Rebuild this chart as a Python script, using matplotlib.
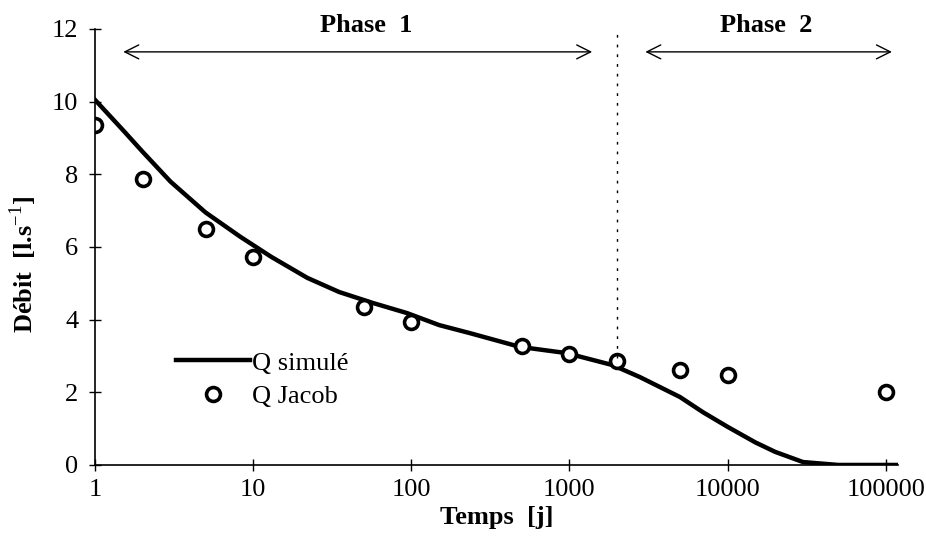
import matplotlib
matplotlib.use("Agg")
import matplotlib.pyplot as plt

# donnees
t_jacob = [1, 2, 5, 10, 50, 100, 500, 1000, 2000, 5000, 10000, 100000]
q_jacob = [9.36, 7.86, 6.5, 5.72, 4.36, 3.94, 3.28, 3.06, 2.85, 2.6, 2.47, 2.02]

t_sim = [1, 1.5, 2, 3, 5, 8.3, 13, 22, 35, 57, 94, 150, 234, 486, 955,
         1870, 2786, 5000, 7000, 10000, 15000, 20000, 30000, 50000, 120000]
q_sim = [10.05, 9.22, 8.62, 7.8, 6.95, 6.28, 5.73, 5.15, 4.76, 4.46, 4.18,
         3.85, 3.63, 3.25, 3.08, 2.75, 2.42, 1.87, 1.45, 1.05, 0.62, 0.36,
         0.08, 0.0, 0.0]

# limites des phases
t_limite = 2000
phase1 = (1.45, 1450)
phase2 = (2900, 114000)

plt.rcParams['font.family'] = ['Liberation Serif', 'DejaVu Serif']
plt.rcParams['mathtext.fontset'] = 'custom'
plt.rcParams['mathtext.rm'] = 'Liberation Serif'
plt.rcParams['mathtext.bf'] = 'Liberation Serif:bold'

fs = 19

fig = plt.figure(figsize=(9.26, 5.47), dpi=100)
ax = fig.add_axes([0.1026, 0.150, 0.8674, 0.797])

ax.plot(t_sim, q_sim, color='black', lw=3.2, label='Q simulé')
ax.plot(t_jacob, q_jacob, 'o', mfc='white', mec='black', ms=10, mew=2.6,
        label='Q Jacob')

ax.plot([t_limite, t_limite], [2.95, 12], color='black', lw=1, ls=(0, (2, 5)))

ax.annotate('', xy=(phase1[0], 11.37), xytext=(phase1[1], 11.37),
            arrowprops=dict(arrowstyle='<->', lw=1, color='black',
                            mutation_scale=25))
ax.annotate('', xy=(phase2[0], 11.37), xytext=(phase2[1], 11.37),
            arrowprops=dict(arrowstyle='<->', lw=1, color='black',
                            mutation_scale=25))
ax.text(52, 12.1, 'Phase  1', ha='center', va='center', fontsize=fs,
        fontweight='bold')
ax.text(17500, 12.1, 'Phase  2', ha='center', va='center', fontsize=fs,
        fontweight='bold')

ax.set_xscale('log')
ax.set_xlim(1, 120000)
ax.set_ylim(0, 12)
ax.set_xticks([1, 10, 100, 1000, 10000, 100000])
ax.set_xticklabels(['1', '10', '100', '1000', '10000', '100000'])
ax.set_yticks([0, 2, 4, 6, 8, 10, 12])
ax.minorticks_off()
ax.tick_params(axis='both', direction='inout', length=8, width=1,
               labelsize=fs, pad=6)
ax.tick_params(axis='y', pad=8)

for s in ['top', 'right']:
    ax.spines[s].set_visible(False)
ax.spines['left'].set_linewidth(1.2)
ax.spines['bottom'].set_linewidth(1.2)

ax.set_xlabel('Temps  [j]', fontsize=fs, fontweight='bold', labelpad=4)
ax.set_ylabel('Débit  [l.s$^{\\mathrm{-1}}$]', fontsize=fs, fontweight='bold',
              labelpad=18)
ax.yaxis.set_label_coords(-0.07, 0.46)

ax.legend(loc='lower left', bbox_to_anchor=(0.085, 0.1), frameon=False,
          fontsize=fs, handlelength=2.8, handletextpad=0.05,
          labelspacing=0.38, borderpad=0)

fig.savefig('out.png', dpi=100)
